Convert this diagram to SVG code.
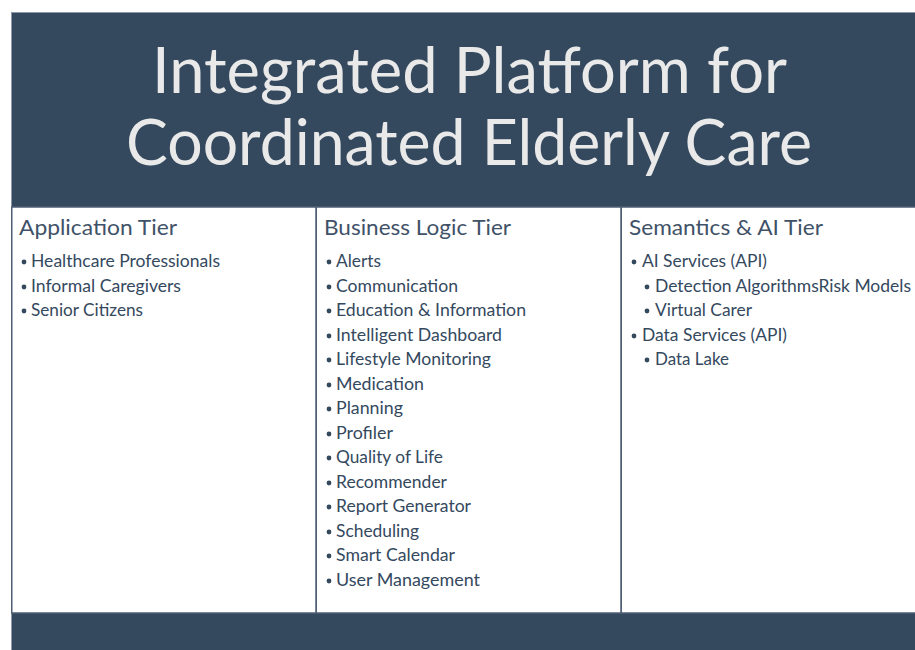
<svg xmlns="http://www.w3.org/2000/svg" width="915" height="650" viewBox="0 0 915 650">
<style>
.bg{fill:#34495e}
.panel{fill:#ffffff;stroke:#4f5f75;stroke-width:1.5}
.title{font-family:Lato,"Liberation Sans",sans-serif;font-size:64px;fill:#e9e9e9}
.head{font-family:Lato,"Liberation Sans",sans-serif;font-size:22px;fill:#3f5268}
.item{font-family:Lato,"Liberation Sans",sans-serif;font-size:16.5px;fill:#34495e}
.dot{fill:#34495e}
</style>
<rect width="915" height="650" fill="#ffffff"/>
<rect class="bg" x="11" y="12" width="910" height="645"/>
<line x1="11.5" y1="12" x2="11.5" y2="650" stroke="#8d99a8" stroke-width="1"/>
<line x1="11" y1="12.5" x2="915" y2="12.5" stroke="#8d99a8" stroke-width="1"/>
<g id="title">
<text class="title" x="152" y="93" textLength="635" lengthAdjust="spacingAndGlyphs">Integrated Platform for</text>
<text class="title" x="126" y="165" textLength="686" lengthAdjust="spacingAndGlyphs">Coordinated Elderly Care</text>
</g>
<g id="application-tier">
<rect class="panel" x="11.75" y="207" width="304.5" height="406"/>
<text class="head" x="19" y="235" textLength="158" lengthAdjust="spacingAndGlyphs">Application Tier</text>
<circle class="dot" cx="24" cy="262" r="2.4"/><text class="item" x="31" y="267" textLength="189" lengthAdjust="spacingAndGlyphs">Healthcare Professionals</text>
<circle class="dot" cx="24" cy="287" r="2.4"/><text class="item" x="31" y="292" textLength="150" lengthAdjust="spacingAndGlyphs">Informal Caregivers</text>
<circle class="dot" cx="24" cy="311" r="2.4"/><text class="item" x="31" y="316" textLength="112" lengthAdjust="spacingAndGlyphs">Senior Citizens</text>
</g>
<g id="business-logic-tier">
<rect class="panel" x="316.25" y="207" width="305" height="406"/>
<text class="head" x="324" y="235" textLength="187" lengthAdjust="spacingAndGlyphs">Business Logic Tier</text>
<circle class="dot" cx="329" cy="262" r="2.4"/><text class="item" x="336" y="267" textLength="45" lengthAdjust="spacingAndGlyphs">Alerts</text>
<circle class="dot" cx="329" cy="287" r="2.4"/><text class="item" x="336" y="292" textLength="122" lengthAdjust="spacingAndGlyphs">Communication</text>
<circle class="dot" cx="329" cy="311" r="2.4"/><text class="item" x="336" y="316" textLength="190" lengthAdjust="spacingAndGlyphs">Education &amp; Information</text>
<circle class="dot" cx="329" cy="336" r="2.4"/><text class="item" x="336" y="341" textLength="166" lengthAdjust="spacingAndGlyphs">Intelligent Dashboard</text>
<circle class="dot" cx="329" cy="360" r="2.4"/><text class="item" x="336" y="365" textLength="155" lengthAdjust="spacingAndGlyphs">Lifestyle Monitoring</text>
<circle class="dot" cx="329" cy="385" r="2.4"/><text class="item" x="336" y="390" textLength="88" lengthAdjust="spacingAndGlyphs">Medication</text>
<circle class="dot" cx="329" cy="409" r="2.4"/><text class="item" x="336" y="414" textLength="67" lengthAdjust="spacingAndGlyphs">Planning</text>
<circle class="dot" cx="329" cy="434" r="2.4"/><text class="item" x="336" y="439" textLength="57" lengthAdjust="spacingAndGlyphs">Profiler</text>
<circle class="dot" cx="329" cy="458" r="2.4"/><text class="item" x="336" y="463" textLength="107" lengthAdjust="spacingAndGlyphs">Quality of Life</text>
<circle class="dot" cx="329" cy="483" r="2.4"/><text class="item" x="336" y="488" textLength="111" lengthAdjust="spacingAndGlyphs">Recommender</text>
<circle class="dot" cx="329" cy="507" r="2.4"/><text class="item" x="336" y="512" textLength="135" lengthAdjust="spacingAndGlyphs">Report Generator</text>
<circle class="dot" cx="329" cy="532" r="2.4"/><text class="item" x="336" y="537" textLength="83" lengthAdjust="spacingAndGlyphs">Scheduling</text>
<circle class="dot" cx="329" cy="556" r="2.4"/><text class="item" x="336" y="561" textLength="119" lengthAdjust="spacingAndGlyphs">Smart Calendar</text>
<circle class="dot" cx="329" cy="581" r="2.4"/><text class="item" x="336" y="586" textLength="144" lengthAdjust="spacingAndGlyphs">User Management</text>
</g>
<g id="semantics-ai-tier">
<rect class="panel" x="621.25" y="207" width="305" height="406"/>
<text class="head" x="629" y="235" textLength="194" lengthAdjust="spacingAndGlyphs">Semantics &amp; AI Tier</text>
<circle class="dot" cx="634" cy="262" r="2.4"/><text class="item" x="642" y="267" textLength="125" lengthAdjust="spacingAndGlyphs">AI Services (API)</text>
<circle class="dot" cx="647" cy="287" r="2.4"/><text class="item" x="655" y="292" textLength="256" lengthAdjust="spacingAndGlyphs">Detection AlgorithmsRisk Models</text>
<circle class="dot" cx="647" cy="311" r="2.4"/><text class="item" x="655" y="316" textLength="97" lengthAdjust="spacingAndGlyphs">Virtual Carer</text>
<circle class="dot" cx="634" cy="336" r="2.4"/><text class="item" x="642" y="341" textLength="145" lengthAdjust="spacingAndGlyphs">Data Services (API)</text>
<circle class="dot" cx="647" cy="360" r="2.4"/><text class="item" x="655" y="365" textLength="74" lengthAdjust="spacingAndGlyphs">Data Lake</text>
</g>
<g id="connectors"></g>
</svg>
